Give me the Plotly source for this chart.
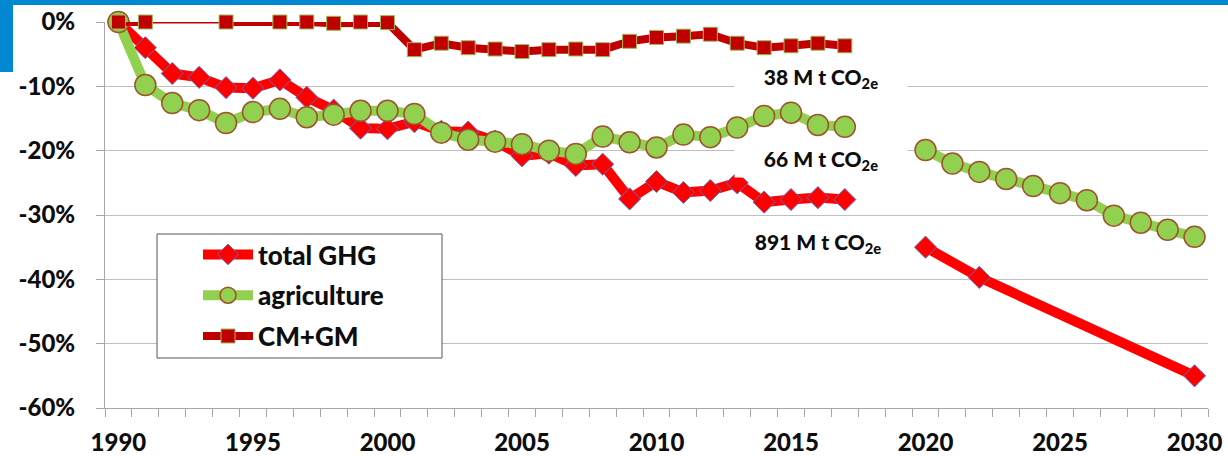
import plotly.graph_objects as go

# ---------------- data ----------------
years_hist = list(range(1990, 2018))
total_ghg = [0.0, -4.0, -8.0, -8.6, -10.2, -10.3, -9.0, -11.7, -13.7, -16.5,
             -16.6, -15.5, -17.0, -17.1, -18.5, -20.8, -20.4, -22.3, -22.1, -27.5,
             -24.8, -26.5, -26.2, -25.0, -28.0, -27.6, -27.3, -27.6]
agriculture = [0.0, -9.8, -12.6, -13.7, -15.7, -14.0, -13.5, -14.8, -14.4, -13.8,
               -13.8, -14.3, -17.2, -18.3, -18.6, -19.0, -20.0, -20.5, -17.8, -18.7,
               -19.5, -17.5, -17.9, -16.4, -14.6, -14.1, -16.0, -16.3]
cm_gm = [0.0, 0.0, None, None, 0.0, 0.1, 0.0, 0.0, -0.2, 0.0,
         -0.1, -4.3, -3.3, -4.0, -4.2, -4.6, -4.3, -4.2, -4.3, -3.0,
         -2.4, -2.2, -1.9, -3.3, -4.0, -3.7, -3.3, -3.7]

years_ghg_proj = [2020, 2022, 2030]
total_ghg_proj = [-35.0, -39.7, -55.0]
years_agri_proj = list(range(2020, 2031))
agri_proj = [-19.9, -22.0, -23.3, -24.4, -25.5, -26.6, -27.7, -30.1, -31.2, -32.3, -33.4]

labels = ["total GHG", "agriculture", "CM+GM"]
emission_labels = ["38 M t CO<sub>2e</sub>", "66 M t CO<sub>2e</sub>", "891 M t CO<sub>2e</sub>"]
label_pos = [(2016.1, -8.7), (2016.1, -21.5), (2016.0, -34.4)]

x_ticks = list(range(1990, 2031, 5))
y_ticks = [0, -10, -20, -30, -40, -50, -60]
y_ticktext = [f"{v}%" for v in y_ticks]

# ---------------- styling ----------------
W, H = 1228, 456
L, R, T, B = 105, 20, 22, 48
pw, ph = W - L - R, H - T - B

def px2x(px):
    return (px - L) / pw

def px2y(py):
    return (H - B - py) / ph

RED = "#FF0000"
GREEN = "#92D050"
DARKRED = "#C00000"
FONT = "Lato"
TXT = "#0D0D0D"

fig = go.Figure()

# total GHG
fig.add_trace(go.Scatter(
    x=years_hist, y=total_ghg, name=labels[0], mode="lines+markers",
    line=dict(color=RED, width=10),
    marker=dict(symbol="diamond", size=17, color=RED, line=dict(color="#5B6FC0", width=1)),
    cliponaxis=False, legendgroup="g1"))
fig.add_trace(go.Scatter(
    x=years_ghg_proj, y=total_ghg_proj, name=labels[0], mode="lines+markers",
    line=dict(color=RED, width=10),
    marker=dict(symbol="diamond", size=17, color=RED, line=dict(color="#5B6FC0", width=1)),
    cliponaxis=False, showlegend=False, legendgroup="g1"))

# agriculture
fig.add_trace(go.Scatter(
    x=years_hist, y=agriculture, name=labels[1], mode="lines+markers",
    line=dict(color=GREEN, width=10),
    marker=dict(symbol="circle", size=21, color=GREEN, line=dict(color="#A0522D", width=1.5)),
    cliponaxis=False, legendgroup="g2"))
fig.add_trace(go.Scatter(
    x=years_agri_proj, y=agri_proj, name=labels[1], mode="lines+markers",
    line=dict(color=GREEN, width=10),
    marker=dict(symbol="circle", size=21, color=GREEN, line=dict(color="#A0522D", width=1.5)),
    cliponaxis=False, showlegend=False, legendgroup="g2"))

# CM+GM: thin connector across the missing years
i0, i1 = years_hist.index(1991), years_hist.index(1994)
fig.add_trace(go.Scatter(
    x=[years_hist[i0], years_hist[i1]], y=[cm_gm[i0], cm_gm[i1]], mode="lines",
    line=dict(color=DARKRED, width=3), showlegend=False, hoverinfo="skip",
    cliponaxis=False, legendgroup="g3"))
fig.add_trace(go.Scatter(
    x=years_hist, y=cm_gm, name=labels[2], mode="lines+markers",
    line=dict(color=DARKRED, width=8),
    marker=dict(symbol="square", size=14, color=DARKRED, line=dict(color="#9BBB59", width=1)),
    cliponaxis=False, connectgaps=False, legendgroup="g3"))

# annotations with white background (hide gridlines)
for txt, (ax_, ay_) in zip(emission_labels, label_pos):
    fig.add_annotation(x=ax_, y=ay_, text=txt, showarrow=False,
                       font=dict(family=FONT, size=21, color=TXT, weight=900),
                       bgcolor="white", width=168, height=30, borderpad=2)

shapes = [
    # blue frame at top and top-left
    dict(type="rect", xref="paper", yref="paper", x0=px2x(0), x1=px2x(W), y0=px2y(5), y1=px2y(0),
         fillcolor="#0288D1", line=dict(width=0), layer="above"),
    dict(type="rect", xref="paper", yref="paper", x0=px2x(0), x1=px2x(13), y0=px2y(72), y1=px2y(0),
         fillcolor="#0288D1", line=dict(width=0), layer="above"),
    # legend box
    dict(type="rect", xref="paper", yref="paper", x0=px2x(157), x1=px2x(442), y0=px2y(358), y1=px2y(234),
         fillcolor="white", line=dict(color="#555555", width=1), layer="above"),
]

fig.update_layout(
    width=W, height=H,
    margin=dict(l=L, r=R, t=T, b=B, autoexpand=False),
    paper_bgcolor="white", plot_bgcolor="white",
    shapes=shapes,
    showlegend=True,
    legend=dict(x=px2x(198), y=px2y(231), xanchor="left", yanchor="top",
                bgcolor="rgba(0,0,0,0)", borderwidth=0,
                font=dict(family=FONT, size=26, color=TXT, weight=900),
                tracegroupgap=4, itemwidth=50),
    xaxis=dict(range=[1989.5, 2030.5], tickvals=x_ticks, ticks="",
               showgrid=False, zeroline=False, automargin=False,
               showline=True, linecolor="#A6A6A6", linewidth=1,
               tickfont=dict(family=FONT, size=24, color=TXT, weight=900),
               ticklabelstandoff=13,
               minor=dict(tick0=1989.5, dtick=1, ticks="outside", ticklen=8,
                          tickcolor="#A6A6A6", showgrid=False)),
    yaxis=dict(range=[-60, 0], tickvals=y_ticks, ticktext=y_ticktext,
               showgrid=True, gridcolor="#BFBFBF", gridwidth=1, zeroline=False,
               automargin=False,
               showline=True, linecolor="#A6A6A6", linewidth=1,
               ticks="outside", ticklen=8, tickcolor="#A6A6A6",
               tickfont=dict(family=FONT, size=24, color=TXT, weight=900),
               ticklabelstandoff=16),
)

fig.write_html("out.html", config={"displayModeBar": False},
               post_script="document.body.style.margin='0';")
